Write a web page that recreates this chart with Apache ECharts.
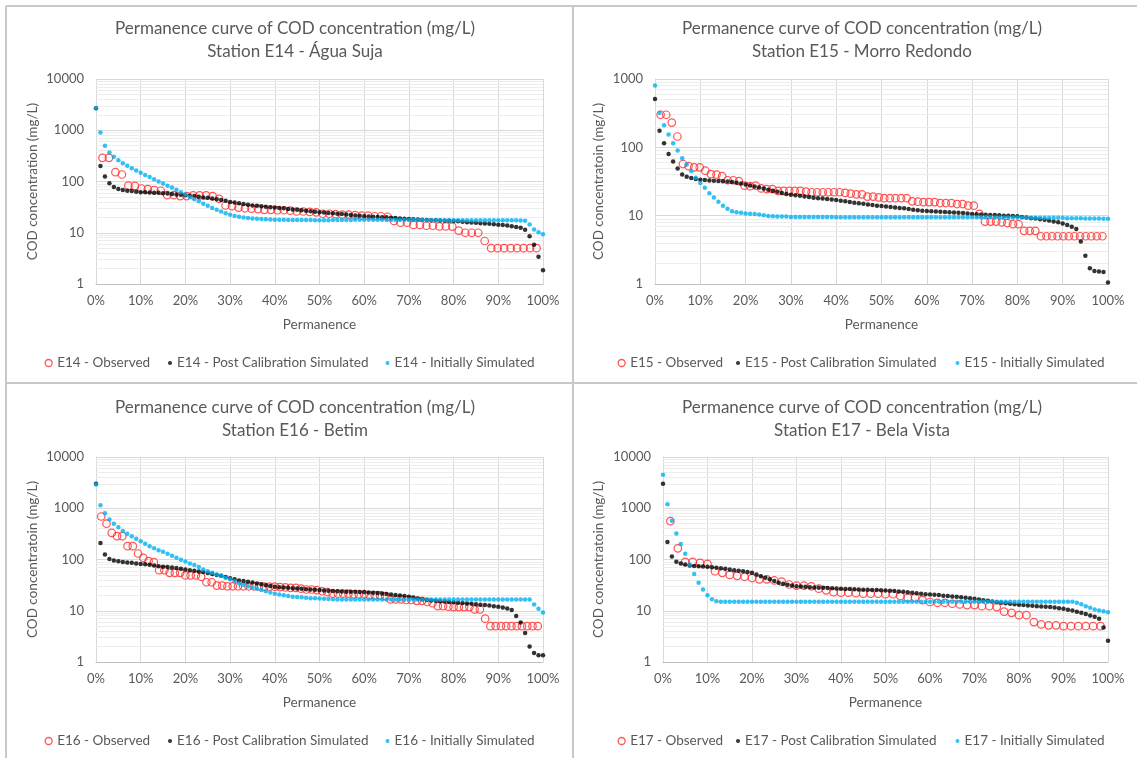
<!DOCTYPE html>
<html>
<head>
<meta charset="utf-8">
<script src="https://cdn.jsdelivr.net/npm/echarts@6/dist/echarts.min.js"></script>
<style>
  html, body { margin: 0; padding: 0; background: #ffffff; }
  #chart { width: 1137px; height: 758px; }
</style>
</head>
<body>
<div id="chart"></div>
<script>
// ---- Data: COD concentration (mg/L) duration curves per station ----
// Simulated curves: one value per 1% of permanence (0% .. 100%).
// Observed: sorted samples, permanence = rank / (n + 1).

const stationNames = ['Station E14 - Água Suja', 'Station E15 - Morro Redondo', 'Station E16 - Betim', 'Station E17 - Bela Vista'];
const stationIds = ['E14', 'E15', 'E16', 'E17'];
const yAxisTitles = ['COD concentration (mg/L)', 'COD concentratoin (mg/L)', 'COD concentratoin (mg/L)', 'COD concentratoin (mg/L)'];
const yAxisMax = [10000, 1000, 10000, 10000];
const chartTitle = 'Permanence curve of COD concentration (mg/L)';
const xAxisTitle = 'Permanence';
const seriesLabels = ['Observed', 'Post Calibration Simulated', 'Initially Simulated'];

const e14Observed = [
  290, 290, 152, 137, 83, 82, 73, 71, 68, 66,
  54, 54, 52, 52, 53.5, 53.5, 53.5, 52, 46, 34,
  33, 31, 30, 29.5, 29, 28, 28, 27.5, 27.5, 27,
  26, 26, 25.5, 25, 23.5, 23.5, 23, 22.6, 22.6, 22,
  21.5, 21.5, 21, 21, 20.5, 17, 15.7, 15.7, 14.2, 14.2,
  13.7, 13.7, 13.3, 13.3, 13.2, 11, 10, 10, 10, 6.9,
  5, 5, 5, 5, 5, 5, 5, 5
];
const e14PostCalibration = [
  2700, 200, 125, 92, 78, 71, 68, 66, 65, 63,
  62, 61.5, 61, 60.5, 60, 59, 58, 57, 56, 55,
  54, 53, 52, 50.5, 49, 48, 46.5, 45, 43.5, 42,
  40, 39, 37.5, 36.5, 35, 34, 33.5, 33, 32, 31.5,
  31, 30.5, 30, 29, 28.5, 28, 27.5, 27, 26.3, 25.7,
  25, 24.7, 24.3, 24, 23.6, 23.3, 22.8, 22.3, 21.8, 21.4,
  21, 20.8, 20.5, 20.3, 20.1, 20, 19.6, 19.3, 19, 18.8,
  18.6, 18.4, 18.2, 18, 17.8, 17.6, 17.5, 17.3, 17.2, 17.1,
  17, 16.7, 16.4, 16.1, 15.9, 15.6, 15.4, 15.1, 14.9, 14.6,
  14.4, 14.1, 13.8, 13.4, 13, 12.5, 11.5, 8.5, 5.8, 3.4,
  1.86
];
const e14InitiallySimulated = [
  2720, 900, 500, 370, 305, 260, 228, 202, 182, 164,
  148, 134, 122, 111, 100, 91, 83, 76, 69, 62,
  56, 50, 45, 41, 37, 33.5, 30.5, 28, 26, 24,
  22.5, 21.3, 20.5, 19.9, 19.4, 19, 18.7, 18.5, 18.3, 18.1,
  18, 17.9, 17.9, 17.8, 17.8, 17.8, 17.7, 17.7, 17.7, 17.6,
  17.6, 17.6, 17.6, 17.7, 17.7, 17.8, 17.8, 17.8, 17.9, 17.9,
  17.9, 17.9, 17.9, 17.9, 17.9, 17.8, 17.8, 17.8, 17.8, 17.8,
  17.7, 17.7, 17.7, 17.7, 17.6, 17.6, 17.6, 17.6, 17.6, 17.5,
  17.5, 17.5, 17.5, 17.5, 17.5, 17.5, 17.5, 17.5, 17.5, 17.5,
  17.5, 17.5, 17.5, 17.5, 17.5, 17.4, 17.2, 14.5, 11.6, 10.2,
  9.3
];

const e15Observed = [
  300, 300, 230, 144, 57, 53, 51, 51, 45.5, 40.5,
  40, 38, 33, 33, 32, 27.5, 27, 27.5, 25, 24.5,
  24.5, 23, 23, 23, 23, 23, 22.5, 22, 22, 22,
  22, 22, 22, 21.5, 21, 20.5, 20.5, 19, 19, 18.5,
  18, 18, 18, 18, 18, 16.2, 16, 15.8, 15.8, 15.8,
  15.3, 15.3, 15.3, 14.8, 14.8, 14, 14, 10.6, 8.2, 8.2,
  8.2, 8, 7.8, 7.5, 7.5, 6, 6, 6, 5, 5,
  5, 5, 5, 5, 5, 5, 5, 5, 5, 5
];
const e15PostCalibration = [
  510, 175, 115, 80, 62, 49, 40, 37, 35.5, 34.5,
  33.6, 33.2, 32.8, 32.5, 32.2, 32, 31.5, 31, 30.3, 29.5,
  28.6, 27.7, 26.8, 25.8, 24.9, 24, 23.2, 22.3, 21.5, 20.8,
  20.3, 19.9, 19.5, 19.1, 18.7, 18.3, 18, 17.8, 17.5, 17.3,
  17, 16.6, 16.3, 15.9, 15.5, 15.2, 14.9, 14.6, 14.3, 14,
  13.8, 13.6, 13.4, 13.2, 13, 12.8, 12.5, 12.2, 12, 11.8,
  11.7, 11.6, 11.5, 11.4, 11.3, 11.2, 11.1, 11, 10.9, 10.8,
  10.6, 10.5, 10.4, 10.3, 10.2, 10.2, 10.1, 10, 10, 9.9,
  9.8, 9.6, 9.4, 9.2, 9.1, 8.9, 8.7, 8.5, 8.2, 8,
  7.7, 7.3, 6.9, 6.4, 4.2, 2.6, 1.7, 1.55, 1.52, 1.5,
  1.05
];
const e15InitiallySimulated = [
  800, 320, 210, 154, 115, 90, 69, 56, 45, 36,
  30, 25.6, 21.3, 18.5, 16, 14, 12.6, 11.6, 11.2, 11,
  10.8, 10.7, 10.6, 10.4, 10.1, 9.9, 9.8, 9.7, 9.7, 9.7,
  9.6, 9.6, 9.6, 9.6, 9.6, 9.6, 9.6, 9.6, 9.6, 9.6,
  9.5, 9.5, 9.5, 9.5, 9.5, 9.5, 9.5, 9.5, 9.5, 9.5,
  9.5, 9.5, 9.5, 9.5, 9.5, 9.5, 9.5, 9.5, 9.5, 9.5,
  9.5, 9.5, 9.5, 9.5, 9.5, 9.5, 9.5, 9.5, 9.5, 9.5,
  9.5, 9.5, 9.5, 9.5, 9.5, 9.4, 9.4, 9.4, 9.4, 9.4,
  9.4, 9.4, 9.4, 9.3, 9.3, 9.3, 9.3, 9.3, 9.3, 9.3,
  9.3, 9.2, 9.2, 9.2, 9.2, 9.1, 9.1, 9.1, 9.1, 9.0,
  9.0
];

const e16Observed = [
  690, 500, 330, 285, 285, 182, 182, 131, 108, 93,
  89, 62, 62, 55, 55, 55, 49, 49, 49, 46,
  36, 36, 31, 31, 30, 30, 30, 30, 30, 30,
  30, 29.5, 29.5, 29.5, 29, 28.5, 28, 28, 27, 26,
  26, 25.3, 24, 23, 21.5, 21.5, 21.5, 21.5, 21, 21,
  21, 20, 20, 20, 19.3, 16.6, 16.6, 16.6, 16.2, 16.2,
  15.6, 15.6, 14.8, 14, 12.3, 12.3, 12, 11.8, 11.8, 11.8,
  11.8, 10.6, 10.6, 7, 5, 5, 5, 5, 5, 5,
  5, 5, 5, 5
];
const e16PostCalibration = [
  3000, 210, 125, 102, 96, 92, 89, 87.5, 86, 84,
  82, 80.5, 79, 76.5, 74, 72.5, 71, 69.5, 68, 66,
  64, 62, 60, 58.5, 57, 54.5, 52, 50, 48, 45.5,
  43, 41, 39, 38, 37, 35.5, 34, 32.8, 31.6, 30.4,
  29.3, 28.9, 28.5, 28, 27.6, 27.2, 26.8, 26.4, 26, 25.6,
  25.3, 24.9, 24.5, 24.2, 24, 23.8, 23.6, 23.5, 23.4, 23.2,
  23.1, 22.8, 22.5, 22.1, 21.8, 21.3, 20.8, 20.3, 19.8, 19.3,
  18.8, 18.1, 17.4, 16.8, 16.3, 15.9, 15.6, 15.3, 15.1, 14.8,
  14.6, 14.4, 14.2, 13.9, 13.7, 13.4, 13.1, 12.9, 12.7, 12.3,
  12, 11.6, 11.1, 10.3, 7.9, 5.9, 3.7, 2.0, 1.5, 1.35,
  1.35
];
const e16InitiallySimulated = [
  2900, 1150, 800, 600, 500, 425, 360, 318, 285, 255,
  228, 204, 182, 166, 152, 141, 130, 119, 108, 99,
  91, 84, 78, 71, 64, 59, 55, 51, 48, 44,
  41, 37.5, 34, 32, 30, 28.5, 27, 25.5, 24, 22.7,
  21.5, 20.7, 20, 19.4, 18.8, 18.5, 18.3, 18, 17.6, 17.5,
  17.4, 17.2, 17, 16.8, 16.6, 16.6, 16.6, 16.6, 16.6, 16.6,
  16.6, 16.6, 16.6, 16.6, 16.6, 16.6, 16.6, 16.6, 16.6, 16.6,
  16.6, 16.6, 16.6, 16.6, 16.6, 16.6, 16.6, 16.6, 16.6, 16.6,
  16.6, 16.6, 16.6, 16.6, 16.6, 16.6, 16.6, 16.6, 16.6, 16.6,
  16.6, 16.6, 16.6, 16.6, 16.6, 16.6, 16.6, 16.6, 13.3, 11,
  9.2
];

const e17Observed = [
  560, 165, 90, 90, 86, 82, 59, 55, 50, 48,
  46, 43.5, 41, 41, 39, 37, 32.5, 31, 31, 30,
  27, 25, 23, 22.5, 22.5, 22, 21.5, 21.5, 21.5, 21,
  21, 19.4, 18, 18, 16.1, 14.8, 14.3, 14.3, 13.7, 13.3,
  12.9, 12.9, 12.3, 12.3, 11.8, 9.6, 9.1, 8.2, 8.2, 6,
  5.4, 5.2, 5.2, 5, 5, 5, 5, 5, 5
];
const e17PostCalibration = [
  3000, 220, 115, 90, 84, 80, 76, 75, 74, 73,
  72, 70.5, 69, 67.5, 66, 64, 62, 60.5, 59, 57,
  55, 51, 47, 44, 41, 38, 35, 33.5, 32, 31,
  30, 29.6, 29.3, 28.9, 28.5, 28.2, 28, 27.8, 27.6, 27.3,
  27, 26.7, 26.5, 26.2, 26, 25.8, 25.6, 25.4, 25.3, 25.1,
  24.9, 24.5, 24.2, 23.8, 23.5, 23, 22.5, 22, 21.5, 21.1,
  20.8, 20.5, 20.2, 19.7, 19.3, 19, 18.7, 18.3, 17.9, 17.5,
  17.1, 16.6, 16.1, 15.6, 15.2, 14.7, 14.3, 14, 13.7, 13.4,
  13.1, 12.9, 12.7, 12.5, 12.3, 12.1, 12, 11.8, 11.6, 11.2,
  10.9, 10.5, 10.1, 9.6, 9.1, 8.6, 8.1, 7.6, 7.0, 4.7,
  2.6
];
const e17InitiallySimulated = [
  4500, 1200, 570, 320, 200, 130, 80, 52, 35, 26,
  20, 16.8, 15.3, 15, 14.9, 14.9, 14.9, 14.9, 14.9, 14.9,
  14.9, 14.9, 14.9, 14.9, 14.9, 14.9, 14.9, 14.9, 14.9, 14.9,
  14.9, 14.9, 14.9, 14.9, 14.9, 14.9, 14.9, 14.9, 14.9, 14.9,
  14.9, 14.9, 14.9, 14.9, 14.9, 14.9, 14.9, 14.9, 14.9, 14.9,
  14.9, 14.9, 14.9, 14.9, 14.9, 14.9, 14.9, 14.9, 14.9, 14.9,
  14.9, 14.9, 14.9, 14.9, 14.9, 14.9, 14.9, 14.9, 14.9, 14.9,
  14.9, 14.9, 14.9, 14.9, 14.9, 14.9, 14.9, 14.9, 14.9, 14.9,
  14.9, 14.9, 14.9, 14.9, 14.9, 14.9, 14.9, 14.9, 14.9, 14.9,
  14.9, 14.9, 14.9, 14.3, 13.4, 12.3, 11.4, 10.6, 10.1, 9.8,
  9.4
];

const observedSets = [e14Observed, e15Observed, e16Observed, e17Observed];
const postCalibrationSets = [e14PostCalibration, e15PostCalibration, e16PostCalibration, e17PostCalibration];
const initialSets = [e14InitiallySimulated, e15InitiallySimulated, e16InitiallySimulated, e17InitiallySimulated];

// ---- Layout of the four panels (pixels) ----
const layout = [
  { grid: { left: 96,  top: 79,  width: 447, height: 205 }, titleX: 290, titleTop: 12,  yNameGap: 56, legendTop: 356, legendX: [44.5, 168, 385.5] },
  { grid: { left: 655, top: 79,  width: 453, height: 205 }, titleX: 857, titleTop: 12,  yNameGap: 49, legendTop: 356, legendX: [617.5, 736, 955.5] },
  { grid: { left: 96,  top: 457, width: 447, height: 205 }, titleX: 290, titleTop: 391, yNameGap: 56, legendTop: 734, legendX: [44.5, 168, 385.5] },
  { grid: { left: 663, top: 457, width: 445, height: 205 }, titleX: 857, titleTop: 391, yNameGap: 57, legendTop: 734, legendX: [617.5, 736, 955.5] }
];

const FONT = 'Lato, "Open Sans", "Liberation Sans", sans-serif';
const TEXT = '#595959';
const RED = '#ff2a2a';
const BLACK = '#000000';
const BLUE = '#00b0f0';

function simulatedPoints(values) {
  return values.map((v, i) => [i * 100 / (values.length - 1), v]);
}
function observedPoints(values) {
  const n = values.length;
  return values.map((v, i) => [(i + 1) * 100 / (n + 1), v]);
}
function minorGridValues(maxValue) {
  const out = [];
  for (let d = 1; d < maxValue; d *= 10) {
    for (let m = 2; m <= 9; m++) out.push(d * m);
  }
  return out;
}

const option = {
  animation: false,
  backgroundColor: '#ffffff',
  textStyle: { fontFamily: FONT },
  title: [], grid: [], xAxis: [], yAxis: [], legend: [], series: [],
  graphic: [
    { type: 'line', shape: { x1: 6, y1: 6, x2: 1137, y2: 6 }, style: { stroke: '#c8c8c8', lineWidth: 2 }, silent: true },
    { type: 'line', shape: { x1: 6, y1: 6, x2: 6, y2: 758 }, style: { stroke: '#c8c8c8', lineWidth: 2 }, silent: true },
    { type: 'line', shape: { x1: 573, y1: 6, x2: 573, y2: 758 }, style: { stroke: '#c8c8c8', lineWidth: 2 }, silent: true },
    { type: 'line', shape: { x1: 6, y1: 383, x2: 1137, y2: 383 }, style: { stroke: '#c8c8c8', lineWidth: 2 }, silent: true }
  ]
};

stationIds.forEach((id, k) => {
  const L = layout[k];
  option.title.push({
    text: chartTitle + '\n' + stationNames[k],
    left: L.titleX, top: L.titleTop, textAlign: 'center',
    textStyle: { fontFamily: FONT, fontSize: 17, fontWeight: 'normal', color: TEXT, lineHeight: 23 }
  });
  option.grid.push(Object.assign({ containLabel: false }, L.grid));
  option.xAxis.push({
    type: 'value', gridIndex: k, min: 0, max: 100, interval: 10,
    name: xAxisTitle, nameLocation: 'middle', nameGap: 34,
    nameTextStyle: { fontFamily: FONT, fontSize: 13.5, color: TEXT },
    axisLabel: { formatter: '{value}%', fontFamily: FONT, fontSize: 13, color: TEXT, margin: 10 },
    axisLine: { show: true, lineStyle: { color: '#bfbfbf', width: 1 } },
    axisTick: { show: false },
    splitLine: { show: true, lineStyle: { color: '#d9d9d9', width: 1 } }
  });
  option.yAxis.push({
    type: 'log', logBase: 10, gridIndex: k, min: 1, max: yAxisMax[k],
    name: yAxisTitles[k], nameLocation: 'middle', nameGap: L.yNameGap,
    nameTextStyle: { fontFamily: FONT, fontSize: 13.5, color: TEXT },
    axisLabel: { formatter: v => String(Math.round(v)), fontFamily: FONT, fontSize: 13, color: TEXT, margin: 12 },
    axisLine: { show: true, lineStyle: { color: '#d9d9d9', width: 1 } },
    axisTick: { show: false },
    splitLine: { show: true, lineStyle: { color: '#d9d9d9', width: 1 } }
  });

  // minor log grid lines (2..9 within each decade), kept beneath the data marks
  option.series.push({
    type: 'line', xAxisIndex: k, yAxisIndex: k, data: [], silent: true, z: 1,
    markLine: {
      z: 1, silent: true, symbol: ['none', 'none'], animation: false,
      label: { show: false },
      lineStyle: { color: '#ededed', type: 'solid', width: 1 },
      emphasis: { disabled: true },
      data: minorGridValues(yAxisMax[k]).map(v => ({ yAxis: v }))
    }
  });

  const names = seriesLabels.map(s => id + ' - ' + s);
  option.series.push({
    name: names[0], type: 'scatter', xAxisIndex: k, yAxisIndex: k, z: 2,
    data: observedPoints(observedSets[k]),
    symbol: 'circle', symbolSize: 7.5,
    itemStyle: { color: 'rgba(255,255,255,0)', borderColor: RED, borderWidth: 1.2 },
    emphasis: { disabled: true }
  });
  option.series.push({
    name: names[1], type: 'scatter', xAxisIndex: k, yAxisIndex: k, z: 3,
    data: simulatedPoints(postCalibrationSets[k]),
    symbol: 'circle', symbolSize: 4.5,
    itemStyle: { color: BLACK },
    emphasis: { disabled: true }
  });
  option.series.push({
    name: names[2], type: 'scatter', xAxisIndex: k, yAxisIndex: k, z: 4,
    data: simulatedPoints(initialSets[k]),
    symbol: 'circle', symbolSize: 4.5,
    itemStyle: { color: BLUE },
    emphasis: { disabled: true }
  });

  const legendStyles = [
    { size: 7, itemStyle: { color: 'rgba(255,255,255,0)', borderColor: RED, borderWidth: 1.3 } },
    { size: 4, itemStyle: { color: BLACK, borderWidth: 0 } },
    { size: 4, itemStyle: { color: BLUE, borderWidth: 0 } }
  ];
  names.forEach((nm, j) => {
    option.legend.push({
      data: [nm], left: L.legendX[j], top: L.legendTop, padding: 0,
      icon: 'circle', itemWidth: legendStyles[j].size, itemHeight: legendStyles[j].size,
      itemStyle: legendStyles[j].itemStyle, selectedMode: false,
      textStyle: { fontFamily: FONT, fontSize: 13.5, color: TEXT }
    });
  });
});

const chart = echarts.init(document.getElementById('chart'), null, { renderer: 'canvas' });
chart.setOption(option);
</script>
</body>
</html>
